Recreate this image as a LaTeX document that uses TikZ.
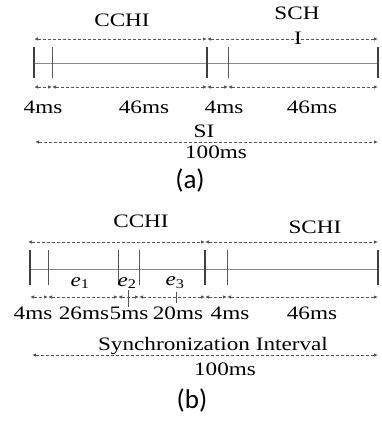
\documentclass[tikz,border=0pt]{standalone}
\usepackage{fontspec}
\setmainfont{Liberation Serif}[FakeStretch=1.22]
\newfontfamily\capfont{Carlito}
\usetikzlibrary{arrows.meta,positioning}
\definecolor{sgray}{HTML}{555555}
\definecolor{lgray}{HTML}{8C8C8C}
\definecolor{sdark}{HTML}{404040}
\tikzset{
  span/.style={{Latex[length=4pt,width=3.5pt]}-{Latex[length=4pt,width=3.5pt]},dash pattern=on 3pt off 2pt,line width=0.8pt,draw=sgray},
  bar/.style={line width=1.8pt,draw=sdark},
  minor/.style={line width=0.8pt,draw=sgray},
  base/.style={line width=1pt,draw=lgray},
  lbl/.style={font=\fontsize{19}{20}\selectfont,inner sep=0pt},
  subcap/.style={font=\capfont\fontsize{27}{28}\selectfont,inner sep=0pt},
}
\newcommand{\ee}[1]{{\itshape e}\textsubscript{#1}}

\begin{document}
\begin{tikzpicture}[x=1pt,y=-1pt]
  \useasboundingbox (0,0) rectangle (382,421);

  % (a) one sync interval
  \foreach \n/\x in {0/34,1/52,2/207,3/228,4/378} {
    \coordinate (aU\n) at (\x,39);
    \coordinate (aT\n) at (\x,47);
    \coordinate (aL\n) at (\x,63);
    \coordinate (aB\n) at (\x,78);
    \coordinate (aS\n) at (\x,87);
  }
  \draw[base] (aL0) -- (aL4);
  \foreach \n in {0,2,4} \draw[bar] (aT\n) -- (aB\n);
  \foreach \n in {1,3} \draw[minor] (aT\n) -- (aB\n);
  \draw[span] (aU0) -- (aU2);
  \draw[span] (aU2) -- (aU4);
  \foreach \n/\m in {0/1,1/2,2/3,3/4} \draw[span] (aS\n) -- (aS\m);
  \coordinate (siL) at (35,142);
  \coordinate (siR) at (378,142);
  \draw[span] (siL) -- (siR);

  \node[lbl] (acchi) at (122,20) {CCHI};
  \node[lbl] (asch) at (297,13) {SCH};
  \node[lbl] (asi) at (298,38) {I};
  \foreach \t/\x [count=\i] in {4ms/43,46ms/144,4ms/224,46ms/312}
    \node[lbl] (ad\i) at (\x,107) {\t};
  \node[lbl] (si) at (204,131) {SI};
  \node[lbl] (atot) at (216,152) {100ms};
  \node[subcap] (capa) at (190,180) {(a)};

  % (b) CCH interval split in events
  \foreach \n/\x in {0/30,1/48,2/118,3/139,4/205,5/227,6/378} {
    \coordinate (bT\n) at (\x,250);
    \coordinate (bL\n) at (\x,269);
    \coordinate (bB\n) at (\x,285);
    \coordinate (bS\n) at (\x,297);
  }
  \coordinate (bU0) at (28,242);
  \coordinate (bU4) at (205,242);
  \coordinate (bU6) at (378,242);
  \draw[base] (bL0) -- (bL6);
  \foreach \n in {0,4,6} \draw[bar] (bT\n) -- (bB\n);
  \foreach \n in {1,2,3,5} \draw[minor] (bT\n) -- (bB\n);
  \draw[span] (bU0) -- (bU4);
  \draw[span] (bU4) -- (bU6);
  \foreach \n/\m in {0/1,1/2,2/3,3/4,4/5,5/6} \draw[span] (bS\n) -- (bS\m);
  \coordinate (e2a) at (128,290);
  \coordinate (e2b) at (128,307);
  \coordinate (e3a) at (176,292);
  \coordinate (e3b) at (176,303);
  \draw[minor] (e2a) -- (e2b);
  \draw[minor] (e3a) -- (e3b);
  \coordinate (syL) at (32,355);
  \coordinate (syR) at (378,355);
  \draw[span] (syL) -- (syR);

  \node[lbl] (bcchi) at (141,221) {CCHI};
  \node[lbl] (bschi) at (315,227) {SCHI};
  \node[lbl] (e1) at (80,283) {\ee{1}};
  \node[lbl] (e2) at (127,283) {\ee{2}};
  \node[lbl] (e3) at (175,283) {\ee{3}};
  \foreach \t/\x [count=\i] in {4ms/33,26ms/84,5ms/129,20ms/178,4ms/230,46ms/312}
    \node[lbl] (bd\i) at (\x,313) {\t};
  \node[lbl] (sync) at (213,346) {Synchronization Interval};
  \node[lbl] (btot) at (225,369) {100ms};
  \node[subcap] (capb) at (192,400) {(b)};
\end{tikzpicture}
\end{document}
